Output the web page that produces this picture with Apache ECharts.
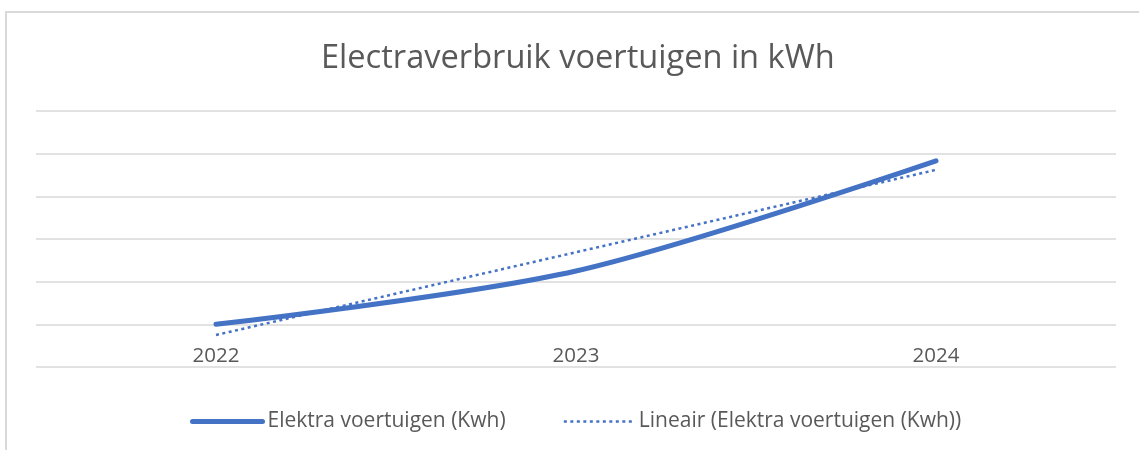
<!DOCTYPE html>
<html>
<head>
<meta charset="utf-8">
<style>
  html, body { margin: 0; padding: 0; background: #fff; }
  #chart { width: 1139px; height: 450px; }
</style>
<script src="https://cdn.jsdelivr.net/npm/echarts@6/dist/echarts.min.js"></script>
</head>
<body>
<div id="chart"></div>
<script>
var jaren = ['2022', '2023', '2024'];
var verbruik = [1.0, 2.25, 4.83];
var lineair = [0.75, 2.69, 4.62];

var blauw = '#4472C4';
var grijs = '#595959';

var myChart = echarts.init(document.getElementById('chart'));

var option = {
    animation: false,
    title: {
        text: 'Electraverbruik voertuigen in kWh',
        left: 316,
        top: 37,
        textStyle: { fontFamily: 'Open Sans', fontSize: 32.6, fontWeight: 'normal', color: grijs }
    },
    legend: {
        left: 185,
        top: 406,
        itemWidth: 70,
        itemHeight: 14,
        itemGap: 57,
        itemStyle: { opacity: 0 },
        textStyle: { fontFamily: 'Open Sans', fontSize: 21, color: grijs },
        data: [
            { name: 'Elektra voertuigen (Kwh)', lineStyle: { width: 5, color: blauw, cap: 'round' } },
            { name: 'Lineair (Elektra voertuigen (Kwh))', lineStyle: { width: 2.5, color: blauw, type: [3, 3.5] } }
        ]
    },
    grid: { left: 36, right: 23, top: 111, bottom: 83 },
    xAxis: {
        type: 'category',
        data: jaren,
        boundaryGap: true,
        axisLine: { show: false },
        axisTick: { show: false },
        axisLabel: { inside: true, margin: 0, fontFamily: 'Open Sans', fontSize: 20.5, color: grijs }
    },
    yAxis: {
        type: 'value',
        min: 0,
        max: 6,
        interval: 1,
        axisLabel: { show: false },
        axisLine: { show: false },
        axisTick: { show: false },
        splitLine: { lineStyle: { color: '#D9D9D9', width: 1.5 } }
    },
    graphic: [{
        type: 'rect',
        shape: { x: 6, y: 12, width: 1300, height: 600 },
        style: { fill: 'none', stroke: '#D9D9D9', lineWidth: 2 },
        silent: true
    }],
    series: [
        {
            name: 'Elektra voertuigen (Kwh)',
            type: 'line',
            data: verbruik,
            smooth: 0.3,
            symbol: 'none',
            lineStyle: { width: 5, color: blauw, cap: 'round' },
            itemStyle: { color: blauw },
            z: 2
        },
        {
            name: 'Lineair (Elektra voertuigen (Kwh))',
            type: 'line',
            data: lineair,
            symbol: 'none',
            lineStyle: { width: 2.5, color: blauw, type: [3, 3.5] },
            itemStyle: { color: blauw },
            z: 3
        }
    ]
};

myChart.setOption(option);
</script>
</body>
</html>
